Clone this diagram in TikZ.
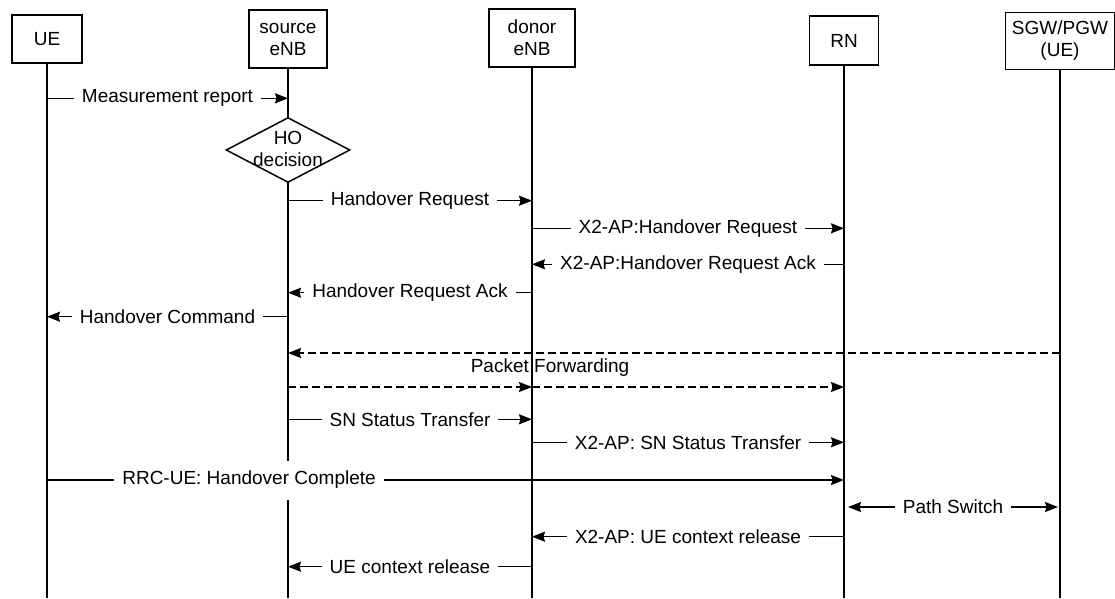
\documentclass[tikz,border=0pt]{standalone}
\usepackage{fontspec}
\setmainfont{Liberation Sans}
\usetikzlibrary{arrows.meta,shapes.geometric}
\tikzset{
  tip/.tip={Stealth[length=13pt,width=10pt,inset=1.5pt]},
  box/.style={draw, line width=1.6pt, fill=white, align=center, inner sep=0pt},
  life/.style={line width=1.6pt},
  msg/.style={line width=1.5pt, -tip},
  dmsg/.style={msg, dash pattern=on 8pt off 4pt},
  bmsg/.style={line width=1.5pt, tip-tip},
  lbl/.style={fill=white, inner xsep=8pt, inner ysep=2pt},
  decision/.style={draw, diamond, line width=1.5pt, fill=white, inner sep=0pt, minimum width=124pt, minimum height=65pt},
}
\begin{document}
\begin{tikzpicture}[x=1pt, y=-1pt, every node/.style={font=\fontsize{19}{22}\selectfont}]
\useasboundingbox (0,0) rectangle (1115,598);
\fill[white] (0,0) rectangle (1115,598);

% heads
\node[box, minimum width=70pt, minimum height=48pt] (ue) at (47,39) {UE};
\node[box, minimum width=78pt, minimum height=58pt] (src) at (288,39) {source\\eNB};
\node[box, minimum width=86pt, minimum height=58pt] (don) at (532,38) {donor\\eNB};
\node[box, minimum width=69pt, minimum height=49pt] (rn) at (844,40.5) {RN};
\node[box, minimum width=109pt, minimum height=57pt] (gw) at (1060,41) {SGW/PGW\\(UE)};

% lifelines
\coordinate (ueE) at (ue.south |- 0,598);
\coordinate (srcE) at (src.south |- 0,598);
\coordinate (donE) at (don.south |- 0,598);
\coordinate (rnE) at (rn.south |- 0,598);
\coordinate (gwE) at (gw.south |- 0,598);
\draw[life] (ue.south) -- (ueE);
\draw[life] (src.south) -- (srcE);
\draw[life] (don.south) -- (donE);
\draw[life] (rn.south) -- (rnE);
\draw[life] (gw.south) -- (gwE);

% HO decision
\node[decision] (hod) at (288,150) {};
\node[align=center, inner sep=0pt] (hot) at (288,149) {HO\\decision};

% messages
\coordinate (m1a) at (ue |- 0,98.3);
\coordinate (m1b) at (src |- 0,98.3);
\draw[msg] (m1a) -- node[lbl] {Measurement report} (m1b);

\coordinate (m2a) at (src |- 0,200.7);
\coordinate (m2b) at (don |- 0,200.7);
\draw[msg] (m2a) -- node[lbl] {Handover Request} (m2b);

\coordinate (m3a) at (don |- 0,228.3);
\coordinate (m3b) at (rn |- 0,228.3);
\draw[msg] (m3a) -- node[lbl] {X2-AP:Handover Request} (m3b);

\coordinate (m4a) at (rn |- 0,264.3);
\coordinate (m4b) at (don |- 0,264.3);
\draw[msg] (m4a) -- node[lbl] {X2-AP:Handover Request Ack} (m4b);

\coordinate (m5a) at (don |- 0,292.7);
\coordinate (m5b) at (src |- 0,292.7);
\draw[msg] (m5a) -- node[lbl] {Handover Request Ack} (m5b);

\coordinate (m6a) at (src |- 0,316.7);
\coordinate (m6b) at (ue |- 0,316.7);
\draw[msg] (m6a) -- node[lbl] {Handover Command} (m6b);

\coordinate (m7a) at (gw |- 0,353);
\coordinate (m7b) at (src |- 0,353);
\draw[dmsg] (m7a) -- (m7b);

\node[inner sep=0pt] (pf) at (550,368) {Packet Forwarding};

\coordinate (m8a) at (src |- 0,387);
\coordinate (m8b) at (don |- 0,387);
\coordinate (m8c) at (rn |- 0,387);
\draw[dmsg] (m8a) -- (m8b);
\draw[dmsg] (m8b) -- (m8c);

\coordinate (m9a) at (src |- 0,419.3);
\coordinate (m9b) at (don |- 0,419.3);
\draw[msg] (m9a) -- node[lbl] {SN Status Transfer} (m9b);

\coordinate (m10a) at (don |- 0,442.3);
\coordinate (m10b) at (rn |- 0,442.3);
\draw[msg] (m10a) -- node[lbl] {X2-AP: SN Status Transfer} (m10b);

\coordinate (m11a) at (ue |- 0,480);
\coordinate (m11b) at (rn |- 0,480);
\draw[msg] (m11a) -- node[lbl, pos=0.2535, minimum height=39pt] {RRC-UE: Handover Complete} (m11b);

\coordinate (m12a) at (848,507);
\coordinate (m12b) at (1058,507);
\draw[bmsg] (m12a) -- node[lbl] {Path Switch} (m12b);

\coordinate (m13a) at (rn |- 0,536.7);
\coordinate (m13b) at (don |- 0,536.7);
\draw[msg] (m13a) -- node[lbl] {X2-AP: UE context release} (m13b);

\coordinate (m14a) at (don |- 0,566.7);
\coordinate (m14b) at (src |- 0,566.7);
\draw[msg] (m14a) -- node[lbl] {UE context release} (m14b);
\end{tikzpicture}
\end{document}
